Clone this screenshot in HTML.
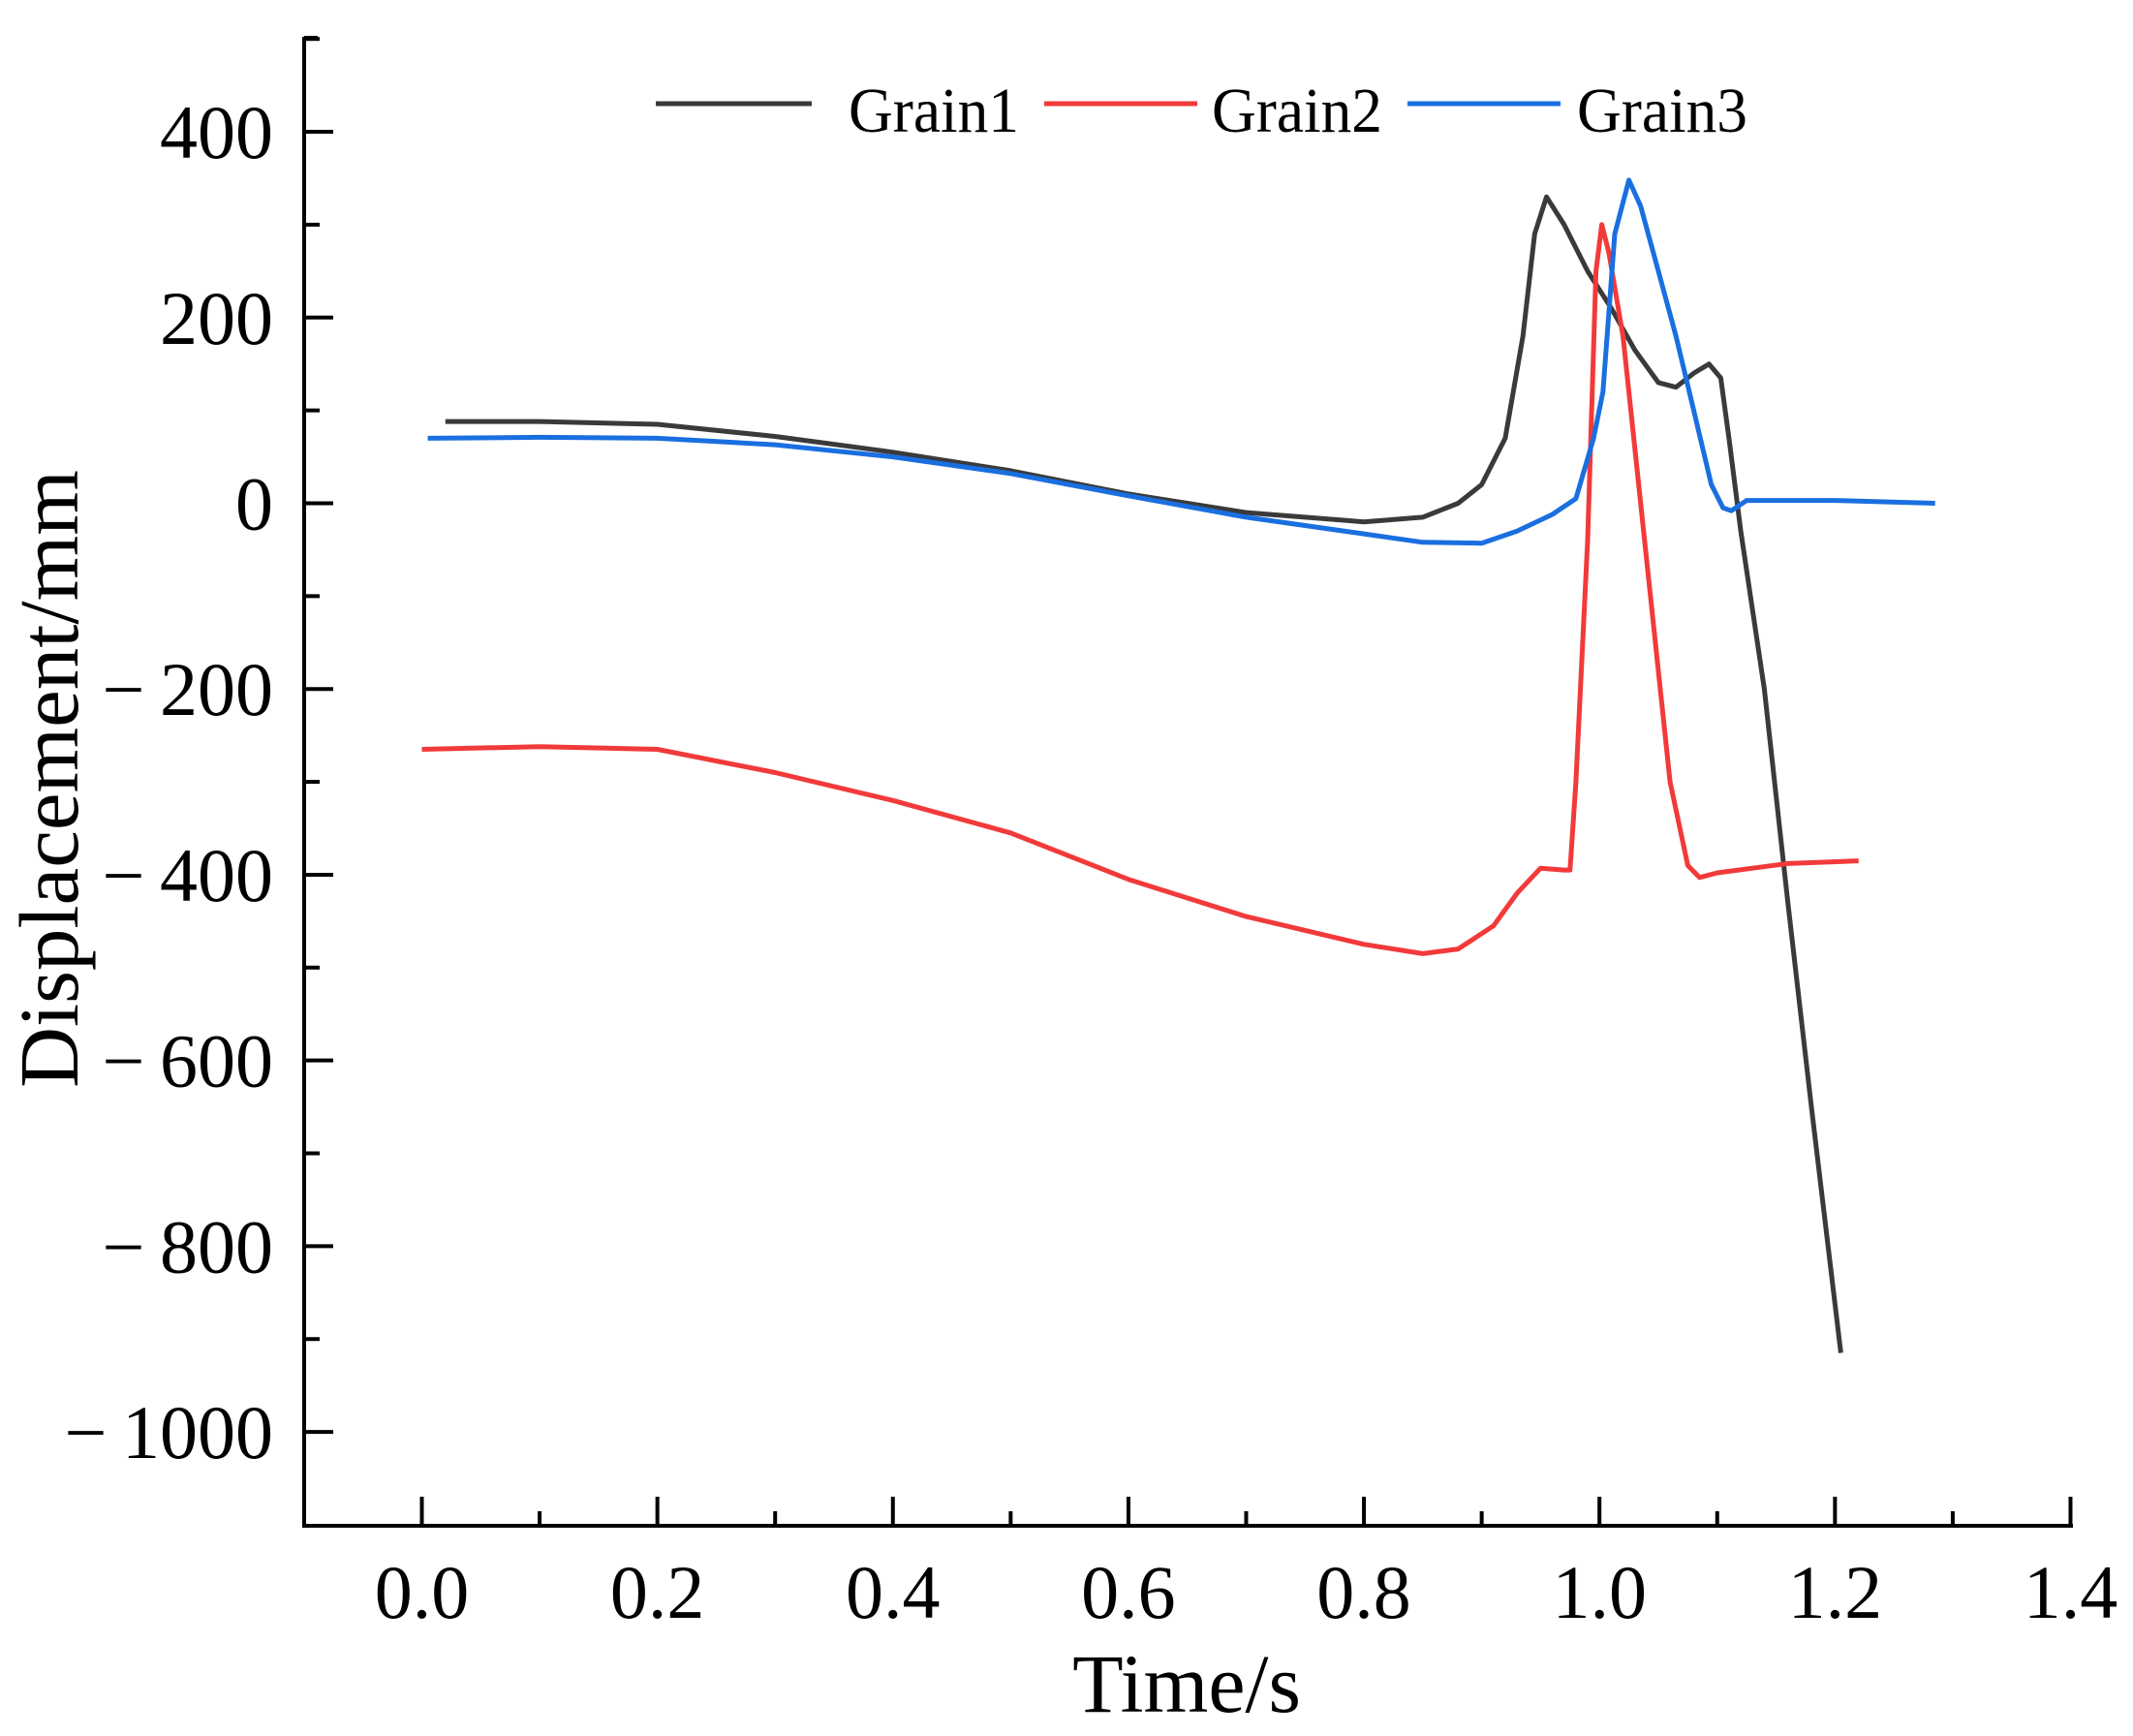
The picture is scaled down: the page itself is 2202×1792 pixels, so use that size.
<!DOCTYPE html>
<html><head><meta charset="utf-8"><style>
html,body{margin:0;padding:0;background:#fff;}
svg{display:block;font-family:"Liberation Serif",serif;}
</style></head><body>
<svg id="chart" width="2202" height="1792" viewBox="0 0 2202 1792" xmlns="http://www.w3.org/2000/svg">
<g id="axes"></g>
<g id="series"></g>
<g id="legend"></g>
<text x="1225" y="1767" font-size="86" text-anchor="middle">Time/s</text>
<text transform="translate(80,804) rotate(-90)" font-size="87" text-anchor="middle">Displacement/mm</text>
</svg>
<script>
const xTicks = [0.0,0.2,0.4,0.6,0.8,1.0,1.2,1.4];
const xTickLabels = ["0.0","0.2","0.4","0.6","0.8","1.0","1.2","1.4"];
const yTicks = [400,200,0,-200,-400,-600,-800,-1000];
const yTickLabels = ["400","200","0","\u2212\u2009200","\u2212\u2009400","\u2212\u2009600","\u2212\u2009800","\u2212\u20091000"];
const seriesNames = ["Grain1","Grain2","Grain3"];
const seriesColors = ["#3a3a3a","#f23a3a","#1a6fe0"];
const g1t = [0.02,0.1,0.2,0.3,0.4,0.5,0.6,0.7,0.8,0.85,0.88,0.9,0.92,0.935,0.945,0.955,0.97,0.99,1.01,1.03,1.05,1.065,1.08,1.093,1.103,1.11,1.12,1.14,1.16,1.18,1.205];
const g1v = [88,88,85,72,55,35,10,-10,-20,-15,0,20,70,180,290,330,300,250,210,165,130,125,140,150,135,70,-30,-200,-430,-650,-915];
const g2t = [0.0,0.1,0.2,0.3,0.4,0.5,0.6,0.7,0.8,0.85,0.88,0.91,0.93,0.95,0.97,0.975,0.98,0.99,0.997,1.002,1.008,1.02,1.04,1.06,1.075,1.085,1.1,1.13,1.16,1.22];
const g2v = [-265,-262,-265,-290,-320,-355,-405,-445,-475,-485,-480,-455,-420,-393,-395,-395,-300,-40,250,300,270,180,-60,-300,-390,-403,-398,-393,-388,-385];
const g3t = [0.005,0.1,0.2,0.3,0.4,0.5,0.6,0.7,0.8,0.85,0.9,0.93,0.96,0.98,0.995,1.003,1.013,1.025,1.035,1.05,1.065,1.08,1.095,1.105,1.112,1.125,1.2,1.285];
const g3v = [70,71,70,63,50,32,8,-15,-33,-42,-43,-30,-12,5,70,120,290,348,320,250,180,100,20,-5,-8,3,3,0];

const X0=435.5, XS=1215.7, Y0=519.5, YS=0.9586;
const sx=t=>X0+t*XS, sy=v=>Y0-v*YS;
const NS="http://www.w3.org/2000/svg";
function mk(tag,attrs,parent){const e=document.createElementNS(NS,tag);for(const k in attrs)e.setAttribute(k,attrs[k]);parent.appendChild(e);return e;}
const axes=document.getElementById('axes');
let ax=mk('path',{d:`M314,38 L314,1575 L2140,1575`,fill:'none',stroke:'#000','stroke-width':4},axes);


mk('line',{x1:314,y1:39,x2:328,y2:39,stroke:'#000','stroke-width':4},axes);
xTicks.forEach((t,i)=>{
  const x=sx(t);
  const l=mk('line',{x1:x,y1:1575,x2:x,y2:1545,stroke:'#000','stroke-width':4},axes);
  
  
  if(i<xTicks.length-1){const m=sx(t+0.1);mk('line',{x1:m,y1:1575,x2:m,y2:1560,stroke:'#000','stroke-width':4},axes);}
  const tx=mk('text',{x:x,y:1670,'font-size':78,'text-anchor':'middle'},axes);
  tx.textContent=xTickLabels[i];
  
  
});
yTicks.forEach((v,i)=>{
  const y=sy(v);
  const l=mk('line',{x1:314,y1:y,x2:344,y2:y,stroke:'#000','stroke-width':4},axes);
  
  
  if(i<yTicks.length-1){const m=sy(v-100);mk('line',{x1:314,y1:m,x2:330,y2:m,stroke:'#000','stroke-width':4},axes);}
  if(i===0){const m=sy(v+100);mk('line',{x1:314,y1:m,x2:330,y2:m,stroke:'#000','stroke-width':4},axes);}
  const tx=mk('text',{x:282,y:y+27,'font-size':78,'text-anchor':'end'},axes);
  tx.textContent=yTickLabels[i];
  
  
});
const ser=document.getElementById('series');
[[g1t,g1v],[g2t,g2v],[g3t,g3v]].forEach((s,k)=>{
  const pts=s[0].map((t,i)=>sx(t).toFixed(1)+','+sy(s[1][i]).toFixed(1)).join(' ');
  const p=mk('polyline',{points:pts,fill:'none',stroke:seriesColors[k],'stroke-width':5,'stroke-linejoin':'round'},ser);
  
  
});
const leg=document.getElementById('legend');
const legLine=[[677,838],[1078,1236],[1453,1611]];
const legText=[876,1251,1628];
seriesNames.forEach((n,k)=>{
  const l=mk('line',{x1:legLine[k][0],y1:107,x2:legLine[k][1],y2:107,stroke:seriesColors[k],'stroke-width':5},leg);
  
  
  const t=mk('text',{x:legText[k],y:136,'font-size':66,textLength:176,lengthAdjust:'spacingAndGlyphs'},leg);
  t.textContent=n;
  
  
});
</script>
</body></html>
